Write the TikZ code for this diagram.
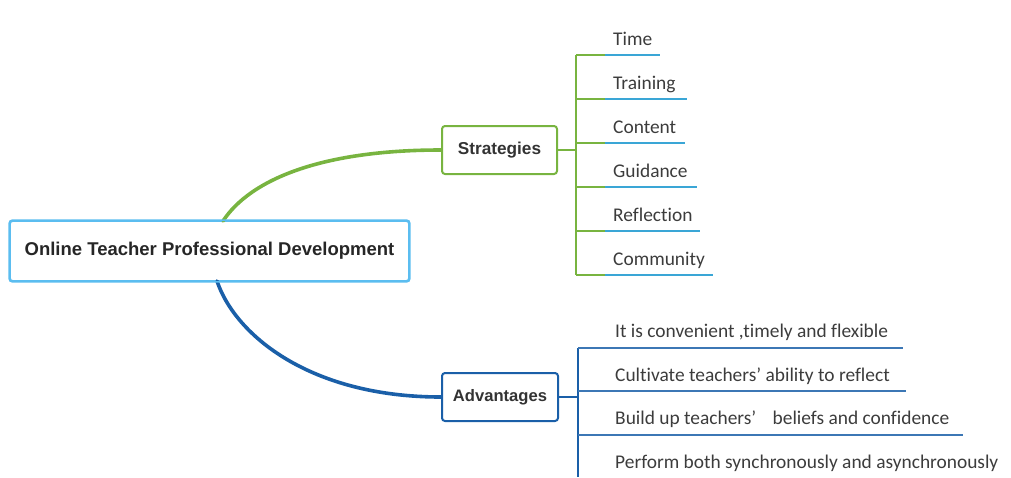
\documentclass[tikz,border=0pt]{standalone}
\usepackage{fontspec}
\setmainfont{Carlito}[Ligatures={TeX,NoCommon}]
\newfontfamily\boldsans{Liberation Sans}[BoldFont={Liberation Sans Bold}]
\definecolor{rootblue}{HTML}{5BBDF0}
\definecolor{sgreen}{HTML}{78B440}
\definecolor{dblue}{HTML}{1A5FA8}
\definecolor{lblue}{HTML}{3AA6D6}
\definecolor{txt}{HTML}{3C3C3C}
\begin{document}
\begin{tikzpicture}[x=1pt,y=-1pt,
  rootbox/.style={draw=rootblue,line width=1.6pt,rounded corners=3pt,fill=white,
    minimum width=399pt,minimum height=60pt,inner sep=0pt,
    font=\boldsans\bfseries\fontsize{18.5}{20}\selectfont,text=black!85},
  mainbox/.style={draw=#1,line width=2pt,rounded corners=3pt,fill=white,
    minimum height=48pt,inner sep=0pt,text=black!80},
  leaf/.style={anchor=base west,inner sep=0pt,font=\fontsize{19.4}{21}\selectfont,text=txt},
  branch/.style={line width=3.6pt,line cap=round},
  bracket/.style={line width=1.6pt}
]
\useasboundingbox (0,0) rectangle (1011,477);

% main nodes
\node[rootbox] (root) at (209.5,251) {Online Teacher Professional Development};
\node[mainbox=sgreen,minimum width=115pt,font=\boldsans\bfseries\fontsize{17.2}{18}\selectfont] (strat) at (499.5,150) {Strategies};
\node[mainbox=dblue,minimum width=116pt,font=\boldsans\bfseries\fontsize{16.6}{18}\selectfont] (adv) at (500,397) {Advantages};

% branches
\coordinate (rtop) at (223,221);
\coordinate (rbot) at (217,281);
\draw[branch,sgreen] (rtop) .. controls (250,180) and (320,150) .. (strat.west);
\draw[branch,dblue] (rbot) .. controls (235,335) and (310,397) .. (adv.west);
\draw[rootblue,line width=1.6pt,rounded corners=3pt] (root.south west) rectangle (root.north east);

% Strategies bracket
\coordinate (sj) at (576,150);
\coordinate (s1) at (576,55);
\coordinate (s6) at (576,275);
\draw[bracket,sgreen] (strat.east) -- (sj);
\draw[bracket,sgreen] (s1) -- (s6);
\foreach \y/\e/\t/\n in {55/660/Time/a,99/687/Training/b,143/685/Content/c,187/697/Guidance/d,231/700/Reflection/e,275/713/Community/f}{
  \coordinate (sl\n) at (576,\y);
  \coordinate (sm\n) at (605,\y);
  \coordinate (se\n) at (\e,\y);
  \draw[bracket,sgreen] (sl\n) -- (sm\n);
  \draw[bracket,lblue] (sm\n) -- (se\n);
  \node[leaf] (st\n) at (613,\y-10) {\t};
}

% Advantages bracket
\coordinate (aj) at (578,397);
\coordinate (a1) at (578,348);
\coordinate (a4) at (578,477);
\draw[bracket,dblue] (adv.east) -- (aj);
\draw[bracket,dblue] (a1) -- (a4);
\foreach \y/\e/\n in {348/903/a,391/906/b,435/963/c}{
  \coordinate (al\n) at (578,\y);
  \coordinate (ae\n) at (\e,\y);
  \draw[bracket,dblue!85!white] (al\n) -- (ae\n);
}
\node[leaf] (ata) at (615,337) {It is convenient ,timely and flexible};
\node[leaf] (atb) at (615,381) {Cultivate teachers' ability to reflect};
\node[leaf] (atc) at (615,424) {Build up teachers'\hspace{12pt} beliefs and confidence};
\node[leaf] (atd) at (615,468) {Perform both synchronously and asynchronously};
\end{tikzpicture}
\end{document}
